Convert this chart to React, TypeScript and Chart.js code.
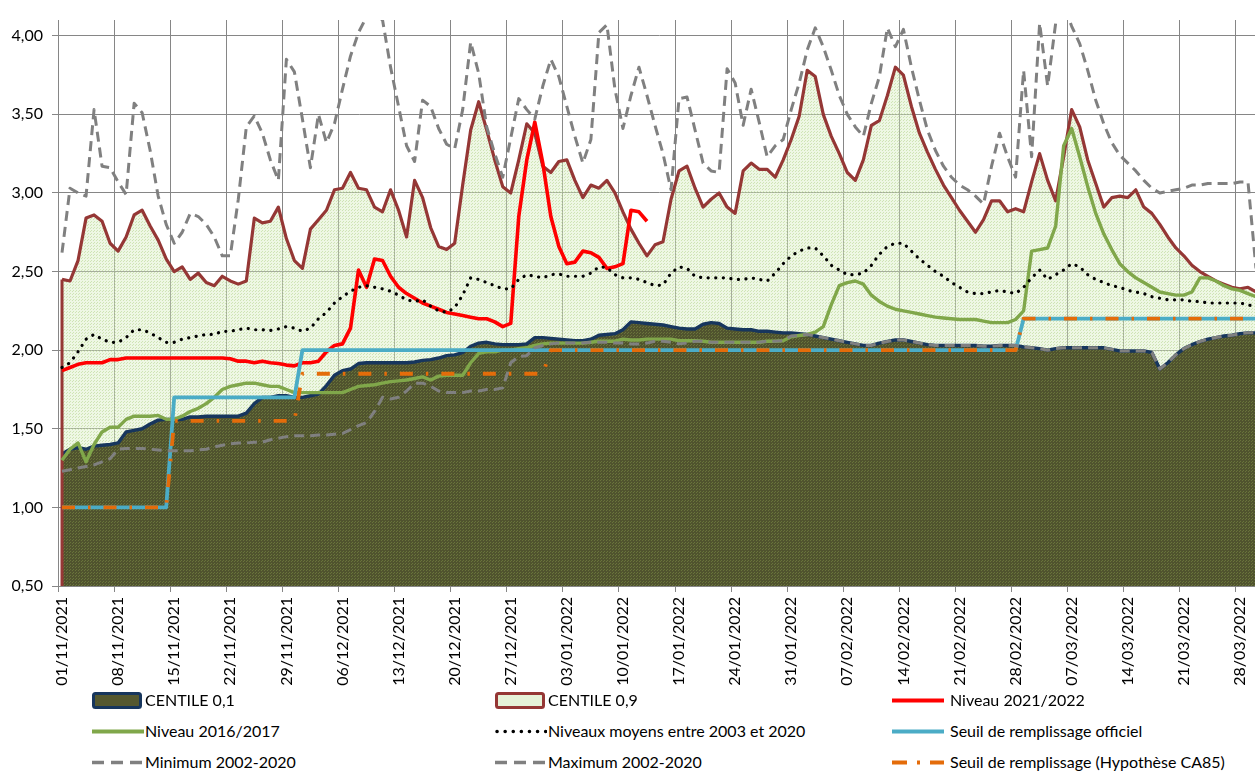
import React, { useEffect, useRef } from 'react';
import { Chart, registerables } from 'chart.js';

Chart.register(...registerables);

// ---------- categories ----------
const START_DATE = [2021, 10, 1]; // 01/11/2021 (month 0-based)
const DAY_COUNT = 150;
function buildDates(): string[] {
  const out: string[] = [];
  for (let i = 0; i < DAY_COUNT; i++) {
    const d = new Date(Date.UTC(START_DATE[0], START_DATE[1], START_DATE[2] + i));
    const dd = String(d.getUTCDate()).padStart(2, '0');
    const mm = String(d.getUTCMonth() + 1).padStart(2, '0');
    out.push(`${dd}/${mm}/${d.getUTCFullYear()}`);
  }
  return out;
}
const DATES = buildDates();
const LABEL_EVERY = 7;

// ---------- y axis ----------
const Y_MIN = 0.5;
const Y_MAX = 4.1;
const Y_STEP = 0.5;

// ---------- series ----------
const CENTILE_10 = [
  1.34, 1.37, 1.38, 1.37, 1.39, 1.395, 1.40, 1.41, 1.48, 1.49,
  1.50, 1.53, 1.555, 1.56, 1.56, 1.56, 1.575, 1.575, 1.58, 1.58,
  1.58, 1.58, 1.58, 1.60, 1.66, 1.70, 1.70, 1.71, 1.71, 1.70,
  1.70, 1.71, 1.72, 1.775, 1.84, 1.87, 1.88, 1.915, 1.92, 1.92,
  1.92, 1.92, 1.92, 1.92, 1.925, 1.935, 1.94, 1.95, 1.965, 1.97,
  1.985, 2.025, 2.045, 2.05, 2.04, 2.035, 2.035, 2.035, 2.04, 2.08,
  2.08, 2.075, 2.07, 2.065, 2.06, 2.06, 2.07, 2.095, 2.10, 2.105,
  2.13, 2.18, 2.175, 2.17, 2.165, 2.16, 2.15, 2.14, 2.135, 2.135,
  2.165, 2.175, 2.17, 2.14, 2.135, 2.13, 2.13, 2.12, 2.12, 2.115,
  2.11, 2.11, 2.105, 2.10, 2.09, 2.08, 2.07, 2.06, 2.05, 2.04,
  2.03, 2.03, 2.045, 2.055, 2.065, 2.065, 2.055, 2.045, 2.035, 2.03,
  2.03, 2.03, 2.03, 2.03, 2.03, 2.025, 2.025, 2.03, 2.03, 2.03,
  2.02, 2.015, 2.01, 2.0, 2.01, 2.015, 2.015, 2.015, 2.015, 2.015,
  2.015, 2.005, 1.995, 1.995, 1.995, 1.995, 1.985, 1.88, 1.92, 1.97,
  2.01, 2.035, 2.055, 2.07, 2.08, 2.09, 2.095, 2.105, 2.11, 2.11,
];

const CENTILE_90 = [
  2.45, 2.44, 2.57, 2.84, 2.86, 2.82, 2.68, 2.63, 2.72, 2.86,
  2.89, 2.79, 2.70, 2.58, 2.50, 2.53, 2.45, 2.49, 2.43, 2.41,
  2.47, 2.44, 2.42, 2.44, 2.84, 2.81, 2.82, 2.91, 2.71, 2.57,
  2.52, 2.77, 2.83, 2.89, 3.02, 3.03, 3.13, 3.03, 3.02, 2.91,
  2.88, 3.02, 2.89, 2.72, 3.08, 2.97, 2.78, 2.66, 2.64, 2.68,
  3.05, 3.40, 3.58, 3.40, 3.21, 3.04, 3.00, 3.21, 3.44, 3.38,
  3.17, 3.13, 3.20, 3.21, 3.08, 2.97, 3.05, 3.03, 3.08, 3.00,
  2.88, 2.77, 2.68, 2.60, 2.67, 2.69, 2.96, 3.14, 3.17, 3.03,
  2.91, 2.96, 3.00, 2.91, 2.87, 3.14, 3.19, 3.15, 3.15, 3.10,
  3.21, 3.34, 3.49, 3.78, 3.74, 3.50, 3.36, 3.25, 3.13, 3.08,
  3.21, 3.43, 3.46, 3.62, 3.80, 3.75, 3.55, 3.38, 3.26, 3.15,
  3.05, 2.97, 2.89, 2.82, 2.75, 2.83, 2.95, 2.95, 2.88, 2.90,
  2.88, 3.07, 3.25, 3.08, 2.95, 3.23, 3.53, 3.42, 3.21, 3.06,
  2.91, 2.97, 2.98, 2.97, 3.02, 2.91, 2.87, 2.80, 2.72, 2.65,
  2.60, 2.54, 2.50, 2.47, 2.44, 2.42, 2.40, 2.39, 2.40, 2.37,
];

const NIVEAU_2021_2022 = [
  1.87, 1.89, 1.91, 1.92, 1.92, 1.92, 1.94, 1.94, 1.95, 1.95,
  1.95, 1.95, 1.95, 1.95, 1.95, 1.95, 1.95, 1.95, 1.95, 1.95,
  1.95, 1.945, 1.93, 1.93, 1.92, 1.93, 1.92, 1.915, 1.905, 1.90,
  1.92, 1.92, 1.93, 1.99, 2.03, 2.04, 2.14, 2.51, 2.40, 2.58,
  2.57, 2.47, 2.40, 2.36, 2.33, 2.30, 2.28, 2.26, 2.24, 2.23,
  2.22, 2.21, 2.20, 2.20, 2.18, 2.15, 2.17, 2.85, 3.21, 3.45,
  3.19, 2.85, 2.66, 2.55, 2.56, 2.63, 2.62, 2.59, 2.52, 2.53,
  2.55, 2.89, 2.88, 2.82,
];

const NIVEAU_2016_2017 = [
  1.30, 1.37, 1.41, 1.29, 1.40, 1.48, 1.51, 1.51, 1.56, 1.58,
  1.58, 1.58, 1.585, 1.56, 1.56, 1.58, 1.61, 1.63, 1.66, 1.70,
  1.75, 1.77, 1.78, 1.79, 1.79, 1.78, 1.77, 1.77, 1.75, 1.73,
  1.73, 1.73, 1.73, 1.73, 1.73, 1.73, 1.75, 1.77, 1.775, 1.78,
  1.79, 1.80, 1.805, 1.81, 1.82, 1.83, 1.81, 1.835, 1.84, 1.84,
  1.84, 1.92, 1.98, 1.99, 1.99, 2.0, 2.0, 2.01, 2.015, 2.03,
  2.04, 2.045, 2.045, 2.045, 2.045, 2.045, 2.05, 2.057, 2.057, 2.057,
  2.07, 2.065, 2.065, 2.07, 2.07, 2.07, 2.07, 2.06, 2.06, 2.06,
  2.057, 2.05, 2.05, 2.05, 2.05, 2.05, 2.05, 2.05, 2.057, 2.057,
  2.06, 2.085, 2.093, 2.10, 2.115, 2.15, 2.29, 2.41, 2.43, 2.44,
  2.42, 2.35, 2.31, 2.28, 2.26, 2.25, 2.24, 2.23, 2.22, 2.21,
  2.205, 2.20, 2.195, 2.195, 2.195, 2.185, 2.175, 2.175, 2.175, 2.195,
  2.25, 2.63, 2.64, 2.65, 2.79, 3.30, 3.41, 3.23, 3.04, 2.87,
  2.74, 2.64, 2.55, 2.50, 2.46, 2.43, 2.40, 2.37, 2.36, 2.35,
  2.35, 2.37, 2.46, 2.46, 2.44, 2.41, 2.39, 2.38, 2.36, 2.34,
];

const NIVEAUX_MOYENS = [
  1.89, 1.92, 1.99, 2.07, 2.10, 2.07, 2.05, 2.05, 2.08, 2.13,
  2.13, 2.11, 2.08, 2.05, 2.05, 2.07, 2.08, 2.09, 2.10, 2.10,
  2.12, 2.12, 2.13, 2.14, 2.13, 2.13, 2.125, 2.135, 2.15, 2.14,
  2.12, 2.14, 2.20, 2.24, 2.30, 2.34, 2.375, 2.40, 2.41, 2.40,
  2.39, 2.375, 2.35, 2.32, 2.31, 2.32, 2.28, 2.25, 2.24, 2.27,
  2.35, 2.46, 2.45, 2.43, 2.41, 2.39, 2.39, 2.45, 2.48, 2.47,
  2.46, 2.48, 2.485, 2.47, 2.47, 2.47, 2.49, 2.53, 2.525, 2.48,
  2.46, 2.46, 2.45, 2.43, 2.41, 2.415, 2.49, 2.53, 2.52, 2.47,
  2.46, 2.46, 2.46, 2.46, 2.45, 2.45, 2.46, 2.45, 2.44, 2.49,
  2.55, 2.60, 2.63, 2.65, 2.65, 2.60, 2.54, 2.51, 2.48, 2.48,
  2.49, 2.54, 2.61, 2.66, 2.68, 2.68, 2.63, 2.58, 2.54, 2.50,
  2.47, 2.43, 2.40, 2.37, 2.36, 2.36, 2.37, 2.38, 2.37, 2.36,
  2.40, 2.46, 2.51, 2.45, 2.48, 2.51, 2.55, 2.53, 2.48, 2.45,
  2.43, 2.41, 2.40, 2.38, 2.37, 2.36, 2.34, 2.33, 2.32, 2.32,
  2.32, 2.31, 2.31, 2.30, 2.30, 2.30, 2.30, 2.30, 2.29, 2.27,
];

const SEUIL_OFFICIEL = [
  1.00, 1.00, 1.00, 1.00, 1.00, 1.00, 1.00, 1.00, 1.00, 1.00,
  1.00, 1.00, 1.00, 1.00, 1.70, 1.70, 1.70, 1.70, 1.70, 1.70,
  1.70, 1.70, 1.70, 1.70, 1.70, 1.70, 1.70, 1.70, 1.70, 1.70,
  2.00, 2.00, 2.00, 2.00, 2.00, 2.00, 2.00, 2.00, 2.00, 2.00,
  2.00, 2.00, 2.00, 2.00, 2.00, 2.00, 2.00, 2.00, 2.00, 2.00,
  2.00, 2.00, 2.00, 2.00, 2.00, 2.00, 2.00, 2.00, 2.00, 2.00,
  2.00, 2.00, 2.00, 2.00, 2.00, 2.00, 2.00, 2.00, 2.00, 2.00,
  2.00, 2.00, 2.00, 2.00, 2.00, 2.00, 2.00, 2.00, 2.00, 2.00,
  2.00, 2.00, 2.00, 2.00, 2.00, 2.00, 2.00, 2.00, 2.00, 2.00,
  2.00, 2.00, 2.00, 2.00, 2.00, 2.00, 2.00, 2.00, 2.00, 2.00,
  2.00, 2.00, 2.00, 2.00, 2.00, 2.00, 2.00, 2.00, 2.00, 2.00,
  2.00, 2.00, 2.00, 2.00, 2.00, 2.00, 2.00, 2.00, 2.00, 2.00,
  2.20, 2.20, 2.20, 2.20, 2.20, 2.20, 2.20, 2.20, 2.20, 2.20,
  2.20, 2.20, 2.20, 2.20, 2.20, 2.20, 2.20, 2.20, 2.20, 2.20,
  2.20, 2.20, 2.20, 2.20, 2.20, 2.20, 2.20, 2.20, 2.20, 2.20,
];

const MINIMUM = [
  1.23, 1.24, 1.25, 1.26, 1.27, 1.29, 1.31, 1.37, 1.375, 1.375,
  1.375, 1.37, 1.365, 1.36, 1.36, 1.36, 1.36, 1.365, 1.37, 1.385,
  1.395, 1.405, 1.41, 1.41, 1.415, 1.415, 1.43, 1.44, 1.45, 1.455,
  1.455, 1.455, 1.46, 1.46, 1.465, 1.47, 1.495, 1.52, 1.54, 1.61,
  1.70, 1.69, 1.70, 1.74, 1.79, 1.79, 1.77, 1.74, 1.73, 1.73,
  1.73, 1.74, 1.74, 1.75, 1.75, 1.76, 1.92, 1.96, 1.965, 2.015,
  2.03, 2.04, 2.045, 2.045, 2.045, 2.045, 2.05, 2.05, 2.05, 2.045,
  2.045, 2.04, 2.04, 2.045, 2.057, 2.057, 2.05, 2.04, 2.045, 2.057,
  2.057, 2.05, 2.05, 2.05, 2.05, 2.05, 2.05, 2.05, 2.057, 2.057,
  2.06, 2.09, 2.093, 2.10, 2.09, 2.08, 2.07, 2.06, 2.05, 2.04,
  2.03, 2.03, 2.045, 2.055, 2.065, 2.065, 2.055, 2.045, 2.035, 2.03,
  2.03, 2.03, 2.03, 2.03, 2.03, 2.025, 2.025, 2.03, 2.03, 2.03,
  2.02, 2.015, 2.01, 2.0, 2.01, 2.015, 2.015, 2.015, 2.015, 2.015,
  2.015, 2.005, 1.995, 1.995, 1.995, 1.995, 1.985, 1.88, 1.92, 1.97,
  2.01, 2.035, 2.055, 2.07, 2.08, 2.09, 2.095, 2.105, 2.11, 2.11,
];

const MAXIMUM = [
  2.62, 3.03, 3.00, 2.98, 3.53, 3.17, 3.16, 3.07, 2.99, 3.57,
  3.51, 3.27, 2.98, 2.80, 2.68, 2.75, 2.87, 2.85, 2.80, 2.72,
  2.60, 2.60, 2.96, 3.42, 3.49, 3.38, 3.21, 3.08, 3.85, 3.77,
  3.47, 3.16, 3.50, 3.32, 3.44, 3.66, 3.87, 4.02, 4.12, 4.14,
  4.10, 3.80, 3.55, 3.30, 3.20, 3.59, 3.55, 3.41, 3.31, 3.28,
  3.53, 3.96, 3.76, 3.42, 3.25, 3.10, 3.35, 3.60, 3.53, 3.47,
  3.68, 3.85, 3.74, 3.55, 3.36, 3.19, 3.34, 4.02, 4.07, 3.66,
  3.41, 3.62, 3.80, 3.62, 3.43, 3.25, 3.02, 3.60, 3.61, 3.40,
  3.19, 3.14, 3.13, 3.79, 3.70, 3.43, 3.66, 3.45, 3.23, 3.30,
  3.34, 3.53, 3.70, 3.91, 4.05, 3.93, 3.78, 3.62, 3.50, 3.42,
  3.36, 3.57, 3.74, 4.05, 3.93, 4.04, 3.80, 3.59, 3.40, 3.27,
  3.17, 3.10, 3.05, 3.02, 2.98, 2.93, 3.17, 3.38, 3.23, 3.10,
  3.78, 3.23, 4.08, 3.68, 4.08, 4.19, 4.06, 3.95, 3.78, 3.59,
  3.44, 3.32, 3.24, 3.19, 3.14, 3.08, 3.03, 3.00, 3.01, 3.02,
  3.03, 3.05, 3.05, 3.06, 3.06, 3.06, 3.06, 3.07, 3.07, 2.52,
];

const SEUIL_CA85 = [
  1.00, 1.00, 1.00, 1.00, 1.00, 1.00, 1.00, 1.00, 1.00, 1.00,
  1.00, 1.00, 1.00, 1.00, 1.55, 1.55, 1.55, 1.55, 1.55, 1.55,
  1.55, 1.55, 1.55, 1.55, 1.55, 1.55, 1.55, 1.55, 1.55, 1.55,
  1.85, 1.85, 1.85, 1.85, 1.85, 1.85, 1.85, 1.85, 1.85, 1.85,
  1.85, 1.85, 1.85, 1.85, 1.85, 1.85, 1.85, 1.85, 1.85, 1.85,
  1.85, 1.85, 1.85, 1.85, 1.85, 1.85, 1.85, 1.85, 1.85, 1.85,
  1.85, 2.00, 2.00, 2.00, 2.00, 2.00, 2.00, 2.00, 2.00, 2.00,
  2.00, 2.00, 2.00, 2.00, 2.00, 2.00, 2.00, 2.00, 2.00, 2.00,
  2.00, 2.00, 2.00, 2.00, 2.00, 2.00, 2.00, 2.00, 2.00, 2.00,
  2.00, 2.00, 2.00, 2.00, 2.00, 2.00, 2.00, 2.00, 2.00, 2.00,
  2.00, 2.00, 2.00, 2.00, 2.00, 2.00, 2.00, 2.00, 2.00, 2.00,
  2.00, 2.00, 2.00, 2.00, 2.00, 2.00, 2.00, 2.00, 2.00, 2.00,
  2.20, 2.20, 2.20, 2.20, 2.20, 2.20, 2.20, 2.20, 2.20, 2.20,
  2.20, 2.20, 2.20, 2.20, 2.20, 2.20, 2.20, 2.20, 2.20, 2.20,
  2.20, 2.20, 2.20, 2.20, 2.20, 2.20, 2.20, 2.20, 2.20, 2.20,
];

// ---------- style ----------
const FONT = "Lato, 'DejaVu Sans', sans-serif";
const GRID = '#868686';
const C_DARK_FILL = '#50532e';
const C_DARK_DOT = '#69743b';
const C_NAVY = '#17365d';
const C_BROWN = '#953735';
const C_RED = '#ff0000';
const C_GREEN = '#80a74a';
const C_BLUE = '#4bacc6';
const C_GREY = '#808080';
const C_ORANGE = '#e46c0a';

function makePattern(bg: string, fg: string): CanvasPattern | string {
  const c = document.createElement('canvas');
  c.width = 3;
  c.height = 3;
  const g = c.getContext('2d');
  if (!g) return bg;
  g.fillStyle = bg;
  g.fillRect(0, 0, 3, 3);
  g.fillStyle = fg;
  g.fillRect(0, 0, 1, 1);
  g.fillRect(1, 2, 1, 1);
  return g.createPattern(c, 'repeat') || bg;
}

const C10_INDEX = 1;

const edgePlugin = {
  id: 'areaEdge',
  afterDatasetDraw(chart: any, args: any) {
    if (args.index !== C10_INDEX) return;
    const x = chart.scales.x;
    const y = chart.scales.y;
    const ctx = chart.ctx;
    const x0 = x.getPixelForValue(0);
    ctx.save();
    ctx.strokeStyle = C_BROWN;
    ctx.lineWidth = 3;
    ctx.beginPath();
    ctx.moveTo(x0, y.getPixelForValue(Y_MIN));
    ctx.lineTo(x0, y.getPixelForValue(CENTILE_90[0]));
    ctx.stroke();
    ctx.restore();
  },
};

type LegendItem = {
  label: string;
  kind: 'box' | 'line';
  stroke: string;
  fill?: string;
  dash?: string;
  cap?: 'round' | 'butt';
  width?: number;
};

const LEGEND_ITEMS: LegendItem[] = [
  { label: 'CENTILE 0,1', kind: 'box', stroke: C_NAVY, fill: '#55582f' },
  { label: 'CENTILE 0,9', kind: 'box', stroke: C_BROWN, fill: '#e6f2d8' },
  { label: 'Niveau 2021/2022', kind: 'line', stroke: C_RED, width: 4 },
  { label: 'Niveau 2016/2017', kind: 'line', stroke: C_GREEN, width: 4 },
  { label: 'Niveaux moyens entre 2003 et 2020', kind: 'line', stroke: '#000', dash: '0.1 8', cap: 'round', width: 3.5 },
  { label: 'Seuil de remplissage officiel', kind: 'line', stroke: C_BLUE, width: 4 },
  { label: 'Minimum 2002-2020', kind: 'line', stroke: C_GREY, dash: '12 7', width: 3.5 },
  { label: 'Maximum 2002-2020', kind: 'line', stroke: C_GREY, dash: '12 7', width: 3.5 },
  { label: 'Seuil de remplissage (Hypothèse CA85)', kind: 'line', stroke: C_ORANGE, dash: '15 10 3 10', width: 4 },
];

const LEG_SWATCH_X = [92, 495, 892];
const LEG_TEXT_X = [145, 548, 950];
const LEG_ROW_Y = [700, 731, 762];

function Swatch({ item }: { item: LegendItem }) {
  if (item.kind === 'box') {
    return (
      <svg width={50} height={17} style={{ display: 'block' }}>
        <rect x={1.5} y={1.5} width={47} height={14} rx={2} ry={2} fill={item.fill} stroke={item.stroke} strokeWidth={3} />
      </svg>
    );
  }
  return (
    <svg width={52} height={17} style={{ display: 'block' }}>
      <line
        x1={item.cap === 'round' ? 2 : 0}
        y1={8.5}
        x2={52}
        y2={8.5}
        stroke={item.stroke}
        strokeWidth={item.width || 4}
        strokeDasharray={item.dash}
        strokeLinecap={item.cap || 'butt'}
      />
    </svg>
  );
}

export default function App() {
  const canvasRef = useRef<HTMLCanvasElement | null>(null);

  useEffect(() => {
    const canvas = canvasRef.current;
    if (!canvas) return;
    Chart.defaults.font.family = FONT;

    const darkFill = makePattern(C_DARK_FILL, C_DARK_DOT);
    const lightFill = makePattern('rgba(212,234,188,0.40)', 'rgba(186,216,150,0.6)');

    const line = (extra: any) => ({
      pointRadius: 0,
      pointHoverRadius: 0,
      tension: 0,
      fill: false,
      borderJoinStyle: 'round',
      ...extra,
    });

    const chart = new Chart(canvas, {
      type: 'line',
      data: {
        labels: DATES,
        datasets: [
          line({ label: 'CENTILE 0,9', data: CENTILE_90, borderColor: C_BROWN, borderWidth: 3.2, backgroundColor: lightFill, fill: 'start', order: 9 }),
          line({ label: 'CENTILE 0,1', data: CENTILE_10, borderColor: C_NAVY, borderWidth: 3.4, backgroundColor: darkFill, fill: 'start', order: 8 }),
          line({ label: 'Niveau 2021/2022', data: NIVEAU_2021_2022, borderColor: C_RED, borderWidth: 3.6, order: 7 }),
          line({ label: 'Niveau 2016/2017', data: NIVEAU_2016_2017, borderColor: C_GREEN, borderWidth: 3.4, order: 6 }),
          line({ label: 'Niveaux moyens entre 2003 et 2020', data: NIVEAUX_MOYENS, borderColor: '#000000', borderWidth: 3.2, borderDash: [0.1, 7.5], borderCapStyle: 'round', order: 5 }),
          line({ label: 'Seuil de remplissage officiel', data: SEUIL_OFFICIEL, borderColor: C_BLUE, borderWidth: 3.8, order: 4 }),
          line({ label: 'Minimum 2002-2020', data: MINIMUM, borderColor: C_GREY, borderWidth: 3, borderDash: [10, 6], order: 3 }),
          line({ label: 'Maximum 2002-2020', data: MAXIMUM, borderColor: C_GREY, borderWidth: 3, borderDash: [10, 6], order: 2 }),
          line({ label: 'Seuil de remplissage (Hypothèse CA85)', data: SEUIL_CA85, borderColor: C_ORANGE, borderWidth: 3.8, borderDash: [13, 13, 2.5, 13], order: 1 }),
        ],
      },
      options: {
        animation: false,
        responsive: false,
        maintainAspectRatio: false,
        devicePixelRatio: 1,
        events: [],
        layout: { padding: { top: 20, left: 0, right: 0, bottom: 0 } },
        plugins: {
          legend: { display: false },
          tooltip: { enabled: false },
          title: { display: false },
        },
        scales: {
          x: {
            type: 'category',
            offset: true,
            grid: {
              offset: true,
              color: (ctx: any) => (ctx.index % LABEL_EVERY === 0 ? GRID : 'rgba(0,0,0,0)'),
              lineWidth: 1,
              tickLength: 6,
              drawTicks: true,
            },
            border: { display: true, color: GRID, width: 1 },
            ticks: {
              autoSkip: false,
              minRotation: 90,
              maxRotation: 90,
              padding: 5,
              color: '#000000',
              font: { family: FONT, size: 16 },
              callback: (_v: any, i: number) => (i % LABEL_EVERY === 0 ? DATES[i] : ''),
            },
            afterFit: (s: any) => {
              s.height = 114;
              s.paddingLeft = 0;
              s.paddingRight = 0;
            },
          },
          y: {
            min: Y_MIN,
            max: Y_MAX,
            grid: {
              color: (ctx: any) => (ctx.tick && ctx.tick.value > 4.05 ? 'rgba(0,0,0,0)' : GRID),
              lineWidth: 1,
              tickLength: 6,
            },
            border: { display: true, color: GRID, width: 1 },
            ticks: {
              stepSize: Y_STEP,
              includeBounds: false,
              padding: 9,
              color: '#000000',
              font: { family: FONT, size: 16 },
              callback: (v: any) => Number(v).toFixed(2).replace('.', ','),
            },
            afterFit: (s: any) => {
              s.width = 58;
              s.paddingTop = 0;
              s.paddingBottom = 0;
            },
          },
        },
      } as any,
      plugins: [edgePlugin as any],
    });

    return () => {
      chart.destroy();
    };
  }, []);

  return (
    <div
      style={{
        position: 'absolute',
        left: 0,
        top: 0,
        width: 1255,
        height: 772,
        overflow: 'hidden',
        background: '#ffffff',
        fontFamily: FONT,
      }}
    >
      <canvas ref={canvasRef} width={1260} height={700} style={{ position: 'absolute', left: 0, top: 0, display: 'block' }} />
      {LEGEND_ITEMS.map((item, i) => {
        const col = i % 3;
        const row = Math.floor(i / 3);
        return (
          <React.Fragment key={item.label}>
            <div style={{ position: 'absolute', left: LEG_SWATCH_X[col], top: LEG_ROW_Y[row] - 8.5 }}>
              <Swatch item={item} />
            </div>
            <div
              style={{
                position: 'absolute',
                left: LEG_TEXT_X[col],
                top: LEG_ROW_Y[row] - 11,
                height: 22,
                lineHeight: '22px',
                fontSize: 16,
                color: '#000000',
                whiteSpace: 'nowrap',
              }}
            >
              {item.label}
            </div>
          </React.Fragment>
        );
      })}
    </div>
  );
}
